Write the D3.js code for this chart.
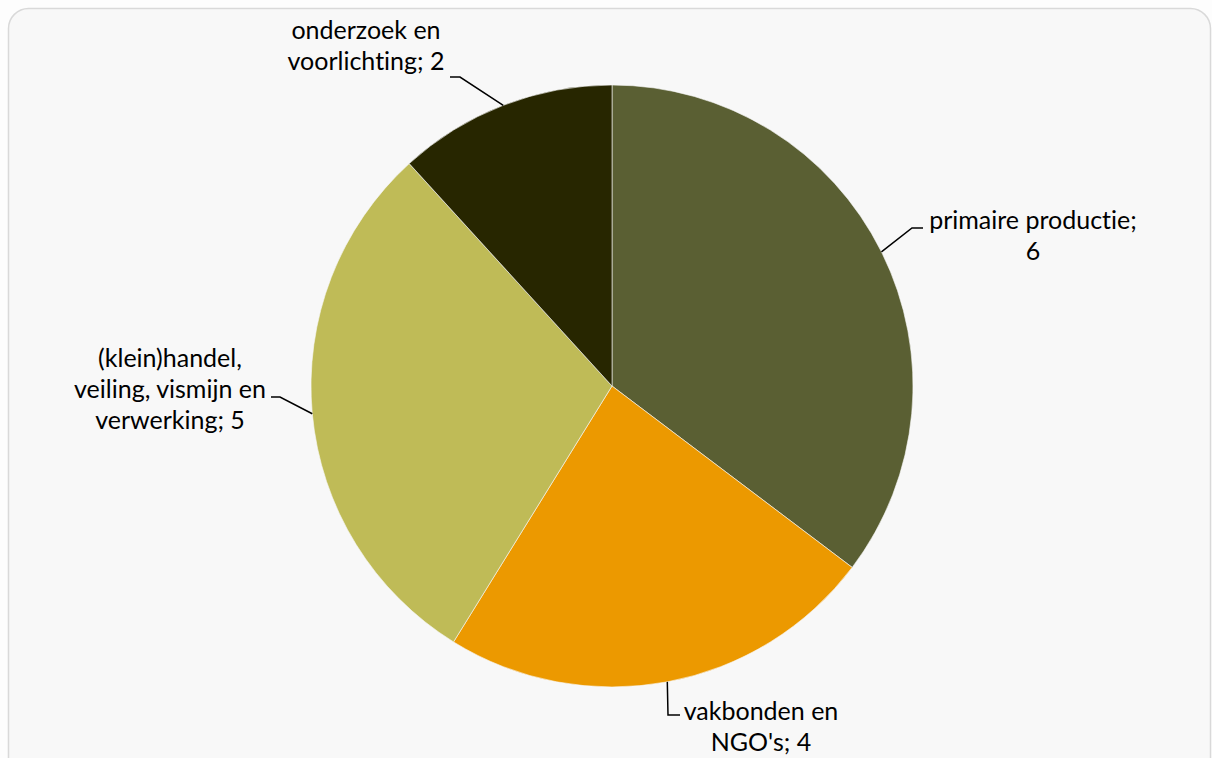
<!DOCTYPE html>
<html>
<head>
<meta charset="utf-8">
<script src="https://cdn.jsdelivr.net/npm/d3@7"></script>
<style>
  body { margin: 0; background: #fdfdfd; }
  svg { display: block; }
  text { font-family: Lato, "Open Sans", sans-serif; fill: #000; font-variant-ligatures: none; }
</style>
</head>
<body>
<script>
// data
var categories = ["primaire productie", "vakbonden en NGO's", "(klein)handel, veiling, vismijn en verwerking", "onderzoek en voorlichting"];
var values = [6, 4, 5, 2];
var labelLines = [
    ["primaire productie;", "6"],
    ["vakbonden en", "NGO's; 4"],
    ["(klein)handel,", "veiling, vismijn en", "verwerking; 5"],
    ["onderzoek en", "voorlichting; 2"]
];
var colors = ["#5a5f33", "#ec9900", "#bfbb57", "#272600"];

var width = 1212, height = 758;
var cx = 612, cy = 386, radius = 301;
var lineH = 31, fontSize = 25;

// where each label block sits (center x, first baseline) and the leader elbow
var labelLayout = [
    { x: 1033, y: 229, elbow: [912, 228], end: [923, 228] },
    { x: 761, y: 720, elbow: [668, 715], end: [680, 715] },
    { x: 170, y: 367, elbow: [280, 397], end: [271, 397] },
    { x: 366, y: 39, elbow: [460, 77], end: [450, 77] }
];

var svg = d3.select("body").append("svg")
    .attr("width", width)
    .attr("height", height);

svg.append("rect")
    .attr("x", 8.5)
    .attr("y", 8.5)
    .attr("width", 1202)
    .attr("height", 780)
    .attr("rx", 20)
    .attr("fill", "#f8f8f8")
    .attr("stroke", "#d9d9d9")
    .attr("stroke-width", 1.5);

var pie = d3.pie().sort(null).value(function(d) { return d; });
var arcs = pie(values);
var arc = d3.arc().innerRadius(0).outerRadius(radius);

var g = svg.append("g").attr("transform", "translate(" + cx + "," + cy + ")");

g.selectAll("path")
    .data(arcs)
    .enter()
    .append("path")
    .attr("d", arc)
    .attr("fill", function(d, i) { return colors[i]; })
    .attr("stroke", "#f8f8f8")
    .attr("stroke-width", 0.6);

// leader lines: from the pie edge at the slice mid-angle to the elbow, then to the label
svg.selectAll("polyline.leader")
    .data(arcs)
    .enter()
    .append("polyline")
    .attr("class", "leader")
    .attr("fill", "none")
    .attr("stroke", "#000")
    .attr("stroke-width", 1.5)
    .attr("points", function(d, i) {
        var a = (d.startAngle + d.endAngle) / 2;
        var px = cx + radius * Math.sin(a);
        var py = cy - radius * Math.cos(a);
        var L = labelLayout[i];
        return [[px, py], L.elbow, L.end].map(function(p) { return p.join(","); }).join(" ");
    });

var labels = svg.selectAll("text.label")
    .data(labelLines)
    .enter()
    .append("text")
    .attr("class", "label")
    .attr("text-anchor", "middle")
    .style("font-size", fontSize + "px");

labels.each(function(lines, i) {
    var L = labelLayout[i];
    d3.select(this).selectAll("tspan")
        .data(lines)
        .enter()
        .append("tspan")
        .attr("x", L.x)
        .attr("y", function(d, j) { return L.y + j * lineH; })
        .text(function(d) { return d; });
});
</script>
</body>
</html>
